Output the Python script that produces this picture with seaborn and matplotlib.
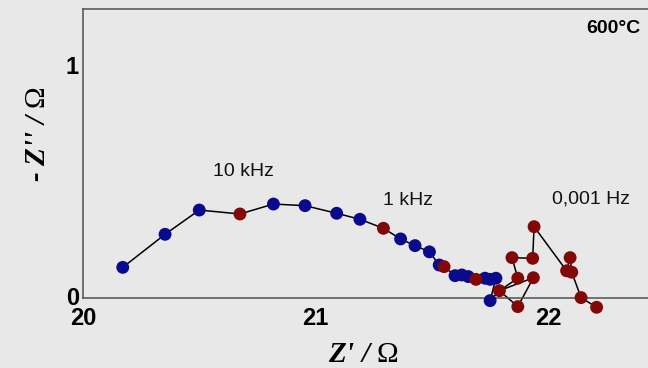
import matplotlib
matplotlib.use("Agg")
import matplotlib.pyplot as plt
import matplotlib.transforms as mtransforms
import pandas as pd
import seaborn as sns

# Impedance spectrum at 600 °C (Nyquist representation)
z_real = [20.171, 20.353, 20.500, 20.675, 20.819, 20.955, 21.091, 21.191,
          21.292, 21.366, 21.428, 21.490, 21.532, 21.553, 21.600, 21.629,
          21.657, 21.690, 21.729, 21.751, 21.776, 21.751, 21.791, 21.870,
          21.937, 21.870, 21.845, 21.934, 21.940, 22.080, 22.095, 22.102,
          22.142, 22.209]
z_imag = [0.134, 0.277, 0.382, 0.365, 0.408, 0.401, 0.368, 0.342,
          0.303, 0.257, 0.228, 0.201, 0.144, 0.137, 0.098, 0.101,
          0.094, 0.082, 0.087, 0.082, 0.087, -0.010, 0.033, -0.036,
          0.089, 0.087, 0.176, 0.173, 0.310, 0.119, 0.176, 0.113,
          0.003, -0.039]
# "decade" points are the frequency-decade markers, "sweep" the others
point_kind = ["sweep", "sweep", "sweep", "decade", "sweep", "sweep", "sweep", "sweep",
              "decade", "sweep", "sweep", "sweep", "sweep", "decade", "sweep", "sweep",
              "sweep", "decade", "sweep", "sweep", "sweep", "sweep", "decade", "decade",
              "decade", "decade", "decade", "decade", "decade", "decade", "decade", "decade",
              "decade", "decade"]
# order in which the measured points are joined by the trace
trace_order = [0, 1, 2, 3, 4, 5, 6, 7, 8, 9, 10, 11, 12, 13, 14, 15, 16, 17,
               18, 19, 20, 21, 22, 23, 24, 22, 25, 26, 27, 28, 29, 30, 31, 32, 33]

freq_labels = ["10 kHz", "1 kHz", "0,001 Hz"]
freq_label_re = [20.688, 21.398, 22.185]
freq_label_im = [0.551, 0.425, 0.430]
temperature_label = "600°C"

x_ticks = [20, 21, 22]
y_ticks = [0, 1]

points = pd.DataFrame({"re": z_real, "im": z_imag, "kind": point_kind})
trace = points.iloc[trace_order].reset_index(drop=True)

bg = "#e9e8e8"
sns.set_theme(style="white")
plt.rcParams.update({
    "font.family": ["Liberation Sans", "DejaVu Sans"],
    "mathtext.fontset": "custom",
    "mathtext.rm": "Liberation Serif",
    "axes.edgecolor": "#505050",
    "axes.linewidth": 1.1,
    "figure.facecolor": bg,
    "axes.facecolor": bg,
    "text.color": "black",
    "xtick.color": "black",
    "ytick.color": "black",
})

fig = plt.figure(figsize=(6.48, 3.68), dpi=100)
ax = fig.add_axes([83 / 648, 1 - 298.3 / 368, 1 - 83 / 648, 289 / 368])

sns.lineplot(data=trace, x="re", y="im", sort=False, estimator=None,
             color="black", linewidth=1.1, ax=ax, zorder=2)

order_idx = points.sort_values("kind", key=lambda s: s.map({"sweep": 0, "decade": 1}),
                               kind="stable").index
sns.scatterplot(data=points.loc[order_idx], x="re", y="im", hue="kind",
                palette={"sweep": "#0a0a8c", "decade": "#820808"},
                s=86, linewidth=0, legend=False, ax=ax, zorder=3)

for artist in list(ax.lines) + list(ax.collections):
    artist.set_clip_on(False)

ax.set_xlim(20, 22.430)
ax.set_ylim(0, 1.251)
ax.set_xticks(x_ticks)
ax.set_yticks(y_ticks)
ax.set_xticklabels([str(t) for t in x_ticks], fontsize=17, fontweight="bold")
ax.set_yticklabels([str(t) for t in y_ticks], fontsize=17, fontweight="bold")
ax.tick_params(axis="both", direction="in", length=5, width=1.0, color="#505050",
               labelcolor="black")
ax.tick_params(axis="x", pad=6)
ax.tick_params(axis="y", pad=3)
ax.spines["right"].set_visible(False)

# lift the value labels on the vertical axis a little so "0" clears "20"
lift = mtransforms.ScaledTranslation(0, 2 / 72, fig.dpi_scale_trans)
for lbl in ax.get_yticklabels():
    lbl.set_transform(lbl.get_transform() + lift)

serif = dict(family="Liberation Serif", weight="bold", style="italic", size=21)
ax.set_xlabel(r"Z' / $\mathrm{\Omega}$", fontdict=serif, color="black")
ax.set_ylabel(r"- Z'' / $\mathrm{\Omega}$", fontdict=serif, color="black")
ax.xaxis.label.set_verticalalignment("center")
ax.yaxis.label.set_verticalalignment("center")
ax.xaxis.set_label_coords(0.497, -0.196)
ax.yaxis.set_label_coords(-0.080, 0.569)

for txt, xr, yi in zip(freq_labels, freq_label_re, freq_label_im):
    ax.text(xr, yi, txt, fontsize=14, ha="center", va="center", color="#111111")

ax.text(22.28, 1.166, temperature_label, fontsize=14, fontweight="bold",
        ha="center", va="center", color="black")

fig.savefig("out.png", dpi=100, facecolor=bg)
